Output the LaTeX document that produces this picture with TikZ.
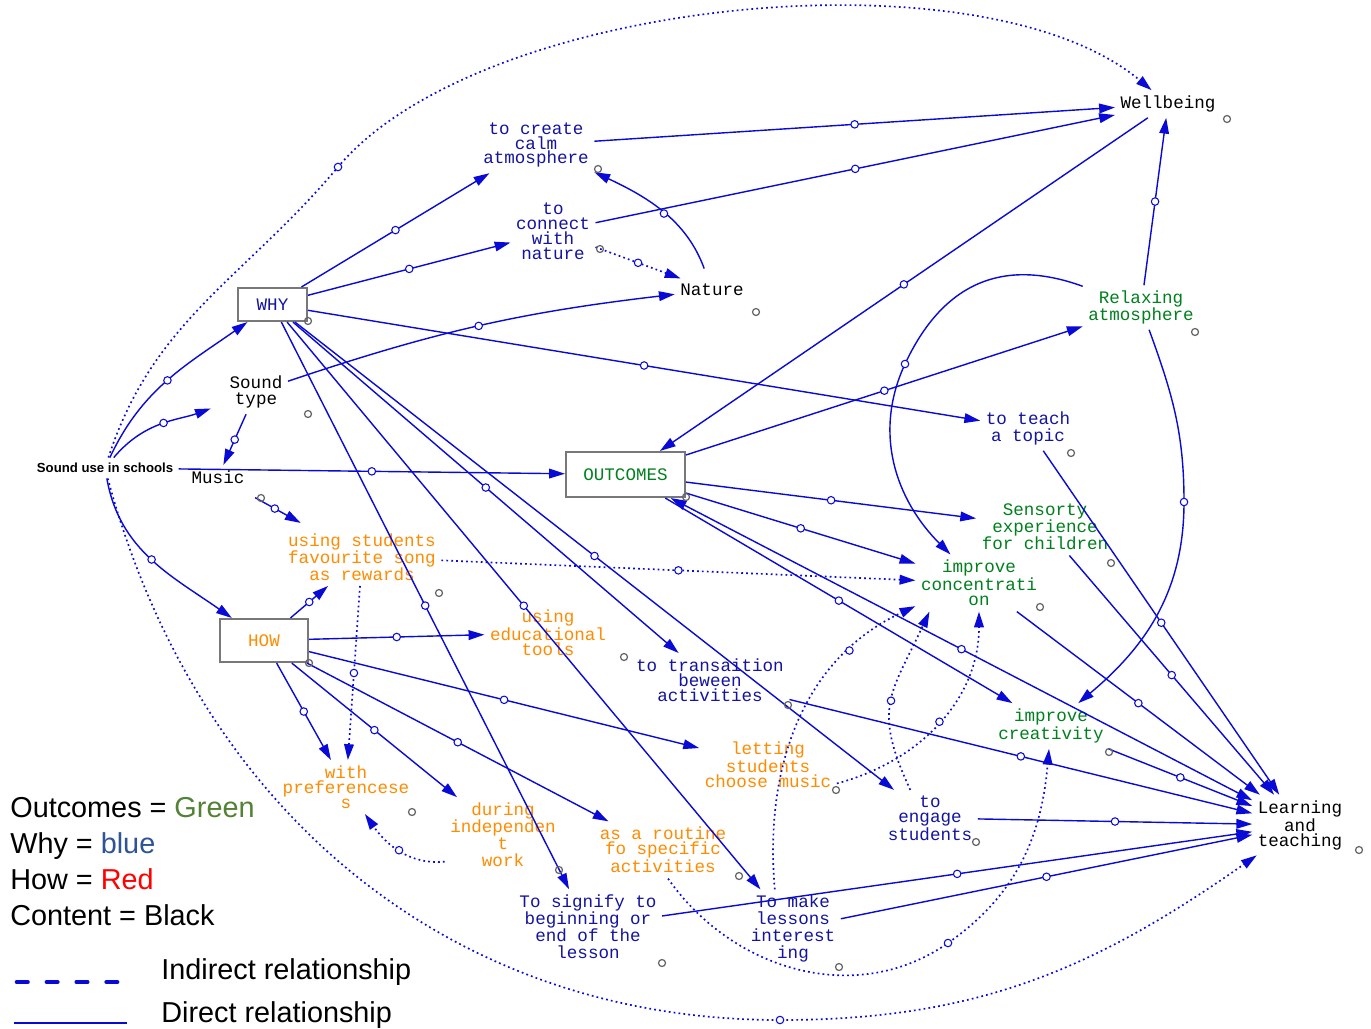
\documentclass[tikz,border=0pt]{standalone}
\usepackage{fontspec}
\setmainfont{Liberation Sans}
\setsansfont{Liberation Sans}
\setmonofont{Liberation Mono}
\usepackage{tikz}
\usetikzlibrary{arrows.meta}

\definecolor{linkblue}{RGB}{10,10,215}
\definecolor{whyblue}{RGB}{20,20,160}
\definecolor{howorange}{RGB}{255,140,0}
\definecolor{outgreen}{RGB}{0,128,30}
\definecolor{keygreen}{RGB}{84,130,53}
\definecolor{keyblue}{RGB}{47,84,150}
\definecolor{boxgray}{RGB}{120,120,120}

\begin{document}
\begin{tikzpicture}[x=0.02cm,y=-0.02cm]
	\tikzstyle{every node}=[font=\ttfamily\fontsize{10}{8.5}\selectfont, align=center, inner sep=3pt]
	\tikzstyle{loose}=[font=\ttfamily\fontsize{10}{9.6}\selectfont]
	\tikzstyle{contxt}=[text=black]
	\tikzstyle{whytxt}=[text=whyblue]
	\tikzstyle{howtxt}=[text=howorange]
	\tikzstyle{outtxt}=[text=outgreen]
	\tikzstyle{keybox}=[draw=boxgray, line width=1.2pt, fill=white, inner sep=0pt]
	\tikzstyle{direct}=[draw=linkblue, line width=0.8pt, -{Triangle[length=9pt,width=5.5pt]}]
	\tikzstyle{indirect}=[direct, line width=0.95pt, dash pattern=on 1pt off 1.8pt]
	\tikzstyle{twoway}=[direct, {Triangle[length=9pt,width=5.5pt]}-{Triangle[length=9pt,width=5.5pt]}]
	\tikzstyle{linkdot}=[circle, solid, draw=linkblue, fill=white, line width=0.6pt, inner sep=0pt, minimum size=0.15cm]
	\tikzstyle{gdot}=[circle, draw=gray!80!black, line width=0.7pt, inner sep=0pt, minimum size=0.14cm]
	\tikzstyle{keytext}=[font=\sffamily\fontsize{16.4}{19}\selectfont, anchor=base west, inner sep=0pt]
	
	\path[use as bounding box, fill=white] (0,0) rectangle (1371,1028);
	
	% content
	\node[contxt] (ss) at (105,468) {\sffamily\bfseries\fontsize{7.5}{9}\selectfont Sound use in schools};
	\node[contxt, loose] (soundtype) at (256,392) {Sound\\type};
	\node[contxt] (music) at (218,477) {Music};
	\node[contxt] (nature) at (712,290) {Nature};
	\node[contxt] (wellbeing) at (1168,104) {Wellbeing};
	\node[contxt] (learning) at (1300,825) {Learning\\and\\teaching};
	
	\node[keybox, text=whyblue, minimum width=1.38cm, minimum height=0.66cm] (why) at (272.5,304.5) {WHY};
	\node[keybox, text=outgreen, minimum width=2.38cm, minimum height=0.9cm] (outcomes) at (625.5,474.5) {OUTCOMES};
	\node[keybox, text=howorange, minimum width=1.76cm, minimum height=0.86cm] (how) at (264,640.5) {HOW};
	
	% why
	\node[whytxt] (calm) at (536,145) {to create\\calm\\atmosphere};
	\node[whytxt] (connect) at (553,231.5) {to\\connect\\with\\nature};
	\node[whytxt, loose] (teach) at (1028,428.5) {to teach\\a topic};
	\node[whytxt] (transition) at (710,680) {to transaition\\beween\\activities};
	\node[whytxt] (engage) at (930,818) {to\\engage\\students};
	\node[whytxt, loose] (signify) at (588,926.5) {To signify to\\beginning or\\end of the\\lesson};
	\node[whytxt, loose] (interesting) at (793,928.5) {To make\\lessons\\interest\\ing};
	
	% how
	\node[howtxt, loose] (favourite) at (362,557) {using students\\favourite song\\as rewards};
	\node[howtxt] (edutools) at (548,633) {using\\educational\\tools};
	\node[howtxt] (preferences) at (346,787) {with\\preferencese\\s};
	\node[howtxt, loose] (independent) at (503,834.5) {during\\independen\\t\\work};
	\node[howtxt] (routine) at (663,850) {as a routine\\fo specific\\activities};
	\node[howtxt] (letting) at (768,765) {letting\\students\\choose music};
	
	% outcomes
	\node[outtxt, loose] (relaxing) at (1141,307.5) {Relaxing\\atmosphere};
	\node[outtxt, loose] (sensory) at (1045,527) {Sensorty\\experience\\for children};
	\node[outtxt] (concentration) at (979,583) {improve\\concentrati\\on};
	\node[outtxt] (creativity) at (1051,726) {improve\\creativity};
	
	% links
	\draw[direct] (ss) to[out=65,in=-145] node[linkdot]{} (why);
	\draw[direct, shorten >=8pt] (ss) to[out=50,in=-160] node[linkdot]{} (soundtype);
	\draw[direct] (ss) to[out=-80,in=145] node[linkdot]{} (how);
	\draw[direct] (ss) -- node[linkdot]{} (outcomes);
	\draw[indirect] (ss) to[out=72,in=-130] (338,167) node[linkdot]{} to[out=50,in=140,looseness=0.69] (wellbeing);
	\draw[indirect] (ss) to[out=-75,in=180] (780,1020) node[linkdot]{} to[out=0,in=-145] (learning);
	
	\draw[direct] (soundtype) -- node[linkdot]{} (music);
	\draw[direct] (soundtype) to[bend left=6] node[linkdot]{} (nature);
	\draw[direct, shorten <=10pt, shorten >=6pt] (music) -- node[linkdot]{} (favourite);
	
	\draw[direct] (why) -- node[linkdot]{} (calm);
	\draw[direct] (why) -- node[linkdot]{} (connect);
	\draw[direct] (why) -- node[linkdot]{} (teach);
	\draw[direct] (why) -- node[linkdot]{} (transition);
	\draw[direct] (why) -- node[linkdot]{} (engage);
	\draw[direct] (why) -- node[linkdot]{} (signify);
	\draw[direct] (why) -- node[linkdot]{} (interesting);
	
	\draw[direct] (calm) -- node[linkdot]{} (wellbeing);
	\draw[direct] (connect) -- node[linkdot]{} (wellbeing);
	\draw[indirect] (connect) -- node[linkdot]{} (nature);
	\draw[direct, shorten <=6pt] (nature) to[out=110,in=-25] node[linkdot]{} (calm);
	
	\draw[direct] (wellbeing) -- node[linkdot]{} (outcomes);
	\draw[direct] (relaxing) -- node[linkdot]{} (wellbeing);
	\draw[direct] (outcomes) -- node[linkdot]{} (relaxing);
	\draw[direct] (outcomes) -- node[linkdot]{} (sensory);
	\draw[direct] (outcomes) -- node[linkdot]{} (concentration);
	\draw[direct] (outcomes) -- node[linkdot]{} (creativity);
	\draw[twoway] (outcomes) -- node[linkdot]{} (learning);
	\draw[direct] (relaxing) to[out=160,in=65,looseness=1.15] (905,364) node[linkdot]{} to[out=-115,in=135] (concentration);
	\draw[direct] (relaxing) to[out=-70,in=90] (1184,502) node[linkdot]{} to[out=-90,in=40] (creativity);
	
	\draw[direct] (teach) -- node[linkdot]{} (learning);
	\draw[direct] (sensory) -- node[linkdot]{} (learning);
	\draw[direct] (concentration) -- node[linkdot]{} (learning);
	\draw[direct] (creativity) -- node[linkdot]{} (learning);
	\draw[direct] (transition) -- node[linkdot]{} (learning);
	\draw[direct] (engage) -- node[linkdot]{} (learning);
	\draw[direct] (signify) -- node[linkdot]{} (learning);
	\draw[direct] (interesting) -- node[linkdot]{} (learning);
	
	\draw[direct] (how) -- node[linkdot]{} (favourite);
	\draw[direct] (how) -- node[linkdot]{} (edutools);
	\draw[direct] (how) -- node[linkdot]{} (preferences);
	\draw[direct] (how) -- node[linkdot]{} (independent);
	\draw[direct] (how) -- node[linkdot]{} (routine);
	\draw[direct] (how) -- node[linkdot]{} (letting);
	
	\draw[indirect] (favourite) -- node[linkdot]{} (preferences);
	\draw[indirect] (favourite) -- node[linkdot]{} (concentration);
	\draw[indirect] (independent.-155) to[out=185,in=-55] node[linkdot]{} (preferences);
	\draw[indirect] (routine.-80) to[out=-55,in=-145] (948,943) node[linkdot]{} to[out=35,in=-95] (creativity);
	\draw[indirect] (letting.-15) to[out=15,in=-90] node[linkdot]{} (concentration);
	\draw[indirect] (interesting.115) to[out=95,in=-155] node[linkdot,pos=0.77]{} (concentration.-160);
	\draw[indirect] (engage.125) to[out=115,in=-115,looseness=1.3] node[linkdot]{} (concentration.-150);
	
	% little grey marks
	\foreach \mx/\my in {598/169, 600/249, 756/312, 1227/119, 1195/332, 308/414, 308/321, 1071/453, 261/498, 686/497, 1111/563, 1040/607, 439/593, 624/657, 309/663, 788/705, 1109/752, 836/790, 412/812, 976/842, 1359/850, 559/870, 739/876, 662/963, 839/967}
	\node[gdot] at (\mx,\my) {};
	
	% key
	\node[keytext] (keyout) at (10,817) {Outcomes = \textcolor{keygreen}{Green}};
	\node[keytext] (keywhy) at (10,853) {Why = \textcolor{keyblue}{blue}};
	\node[keytext] (keyhow) at (10,889) {How = \textcolor{red}{Red}};
	\node[keytext] (keycon) at (10,925.5) {Content = Black};
	\node[keytext] (keyind) at (161,979) {Indirect relationship};
	\node[keytext] (keydir) at (161,1022) {Direct relationship};
	\coordinate (inda) at (17,982);
	\coordinate (indb) at (122,982);
	\coordinate (dira) at (14,1023);
	\coordinate (dirb) at (127,1023);
	\draw[linkblue, line width=2.6pt, line cap=round, dash pattern=on 6pt off 11pt] (inda) -- (indb);
	\draw[linkblue, line width=1.6pt] (dira) -- (dirb);
	
\end{tikzpicture}
\end{document}
